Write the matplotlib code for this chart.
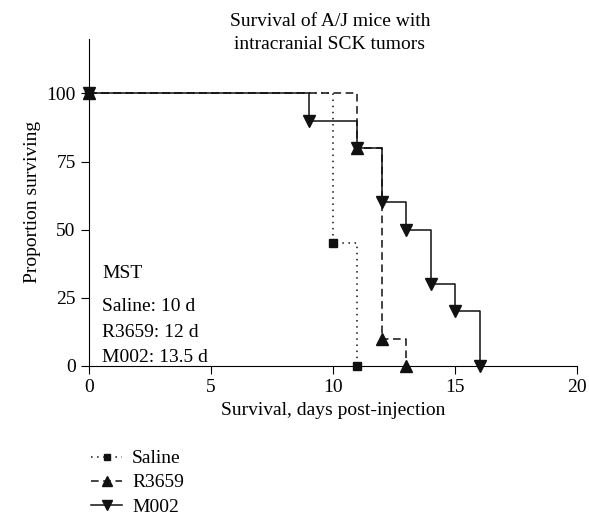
import matplotlib
matplotlib.use('Agg')
import matplotlib.pyplot as plt
from matplotlib.lines import Line2D

plt.rcParams['font.family'] = ['Liberation Serif', 'DejaVu Serif']

# survival curves (day, percent surviving) at each step
saline_days = [0, 10, 11]
saline_surv = [100, 45, 0]
r3659_days = [0, 11, 12, 13]
r3659_surv = [100, 80, 10, 0]
m002_days = [0, 9, 11, 12, 13, 14, 15, 16]
m002_surv = [100, 90, 80, 60, 50, 30, 20, 0]

xticks = [0, 5, 10, 15, 20]
yticks = [0, 25, 50, 75, 100]

fig = plt.figure(figsize=(5.89, 5.19), dpi=100)
ax = fig.add_axes([0.151, 0.295, 0.829, 0.63])

series = [
    (saline_days, saline_surv, (0, (1, 3)), 's', 6, 'Saline'),
    (r3659_days, r3659_surv, (0, (5, 3)), '^', 9, 'R3659'),
    (m002_days, m002_surv, '-', 'v', 9, 'M002'),
]
handles = []
for d, s, ls, mk, ms, lab in series:
    ax.step(d, s, where='post', color='#111111', linestyle=ls, lw=1.1, clip_on=False)
    ax.plot(d, s, linestyle='none', marker=mk, ms=ms, color='#111111', clip_on=False, zorder=5)
    handles.append(Line2D([], [], color='#111111', linestyle=ls, lw=1.1, marker=mk,
                          ms=ms * 0.8, label=lab))

ax.set_xlim(0, 20)
ax.set_ylim(0, 120)
ax.set_xticks(xticks)
ax.set_yticks(yticks)
ax.spines['top'].set_visible(False)
ax.spines['right'].set_visible(False)
ax.tick_params(direction='out', length=6, labelsize=14)
ax.set_xlabel('Survival, days post-injection', fontsize=14, labelpad=4)
ax.set_ylabel('Proportion surviving', fontsize=14)

ax.text(0.55, 34, 'MST', fontsize=14, va='center')
ax.text(0.55, 21.7, 'Saline: 10 d', fontsize=14, va='center')
ax.text(0.55, 12.1, 'R3659: 12 d', fontsize=14, va='center')
ax.text(0.55, 2.9, 'M002: 13.5 d', fontsize=14, va='center')

fig.text(0.56, 0.975, 'Survival of A/J mice with\nintracranial SCK tumors',
         ha='center', va='top', fontsize=14, linespacing=1.45)

fig.legend(handles=handles, loc='lower left', bbox_to_anchor=(0.125, -0.027),
           frameon=False, fontsize=14, handlelength=1.6, handletextpad=0.5,
           labelspacing=0.33)

fig.savefig('out.png', dpi=100)
